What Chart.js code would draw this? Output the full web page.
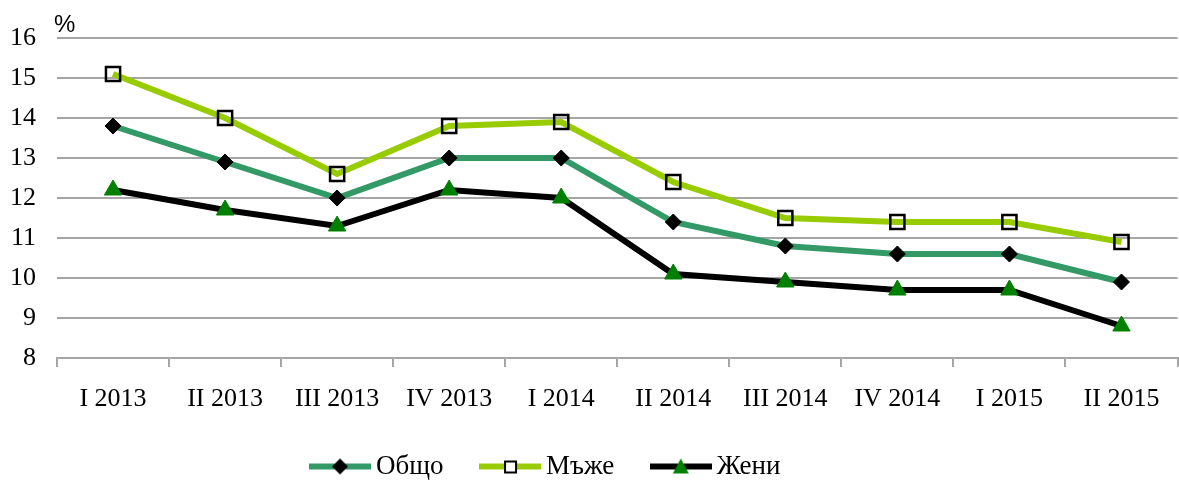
<!DOCTYPE html>
<html>
<head>
<meta charset="utf-8">
<script src="https://cdn.jsdelivr.net/npm/chart.js@4/dist/chart.umd.min.js"></script>
<style>
  html, body { margin: 0; padding: 0; background: #fff; overflow: hidden; width: 1179px; height: 481px; }
  #chart { position: absolute; left: -92px; top: 0; }
</style>
</head>
<body>
<canvas id="chart" width="1282" height="500"></canvas>
<script>
var categories = ['I 2013', 'II 2013', 'III 2013', 'IV 2013', 'I 2014', 'II 2014', 'III 2014', 'IV 2014', 'I 2015', 'II 2015'];
var total = [13.8, 12.9, 12.0, 13.0, 13.0, 11.4, 10.8, 10.6, 10.6, 9.9];
var men = [15.1, 14.0, 12.6, 13.8, 13.9, 12.4, 11.5, 11.4, 11.4, 10.9];
var women = [12.2, 11.7, 11.3, 12.2, 12.0, 10.1, 9.9, 9.7, 9.7, 8.8];
var seriesNames = ['Общо', 'Мъже', 'Жени'];

var gridColor = '#a6a6a6';
var serif = "'Liberation Serif', 'Times New Roman', serif";

// legend icon: line sample with the marker in the middle
function legendIcon(lineColor, style, fill, stroke) {
  var c = document.createElement('canvas');
  c.width = 62;
  c.height = 22;
  var ctx = c.getContext('2d');
  ctx.fillStyle = lineColor;
  ctx.fillRect(0, 8, 62, 6);
  ctx.fillStyle = fill;
  ctx.strokeStyle = stroke;
  ctx.lineWidth = 2;
  ctx.beginPath();
  if (style == 'rectRot') {
    ctx.moveTo(31, 3); ctx.lineTo(39, 11); ctx.lineTo(31, 19); ctx.lineTo(23, 11);
    ctx.closePath();
    ctx.fill();
  } else if (style == 'rect') {
    ctx.fillRect(26, 6, 11, 11);
    ctx.strokeRect(26, 6, 11, 11);
  } else {
    ctx.moveTo(31, 3); ctx.lineTo(39, 18); ctx.lineTo(23, 18);
    ctx.closePath();
    ctx.fill();
  }
  return c;
}

var percentLabel = {
  id: 'percentLabel',
  afterDraw: function (chart) {
    var ctx = chart.ctx;
    ctx.save();
    ctx.font = "24px 'Liberation Sans', Arial, sans-serif";
    ctx.fillStyle = '#000';
    ctx.textAlign = 'left';
    ctx.textBaseline = 'alphabetic';
    ctx.fillText('%', chart.chartArea.left - 3, chart.chartArea.top - 6);
    ctx.restore();
  }
};

var icons = [];
var iconStyles = [
  ['#339966', 'rectRot', '#000', '#000'],
  ['#99cc00', 'rect', '#fff', '#000'],
  ['#000', 'triangle', '#008000', '#008000']
];

var chart = new Chart(document.getElementById('chart'), {
  type: 'line',
  data: {
    labels: categories,
    datasets: [{
      label: seriesNames[0],
      data: total,
      borderColor: '#339966',
      backgroundColor: '#000',
      borderWidth: 6,
      pointStyle: 'rectRot',
      pointRadius: 8,
      pointHoverRadius: 8,
      pointBackgroundColor: '#000',
      pointBorderColor: '#000',
      pointBorderWidth: 1,
      tension: 0
    }, {
      label: seriesNames[1],
      data: men,
      borderColor: '#99cc00',
      backgroundColor: 'rgba(0,0,0,0)',
      borderWidth: 6,
      pointStyle: 'rect',
      pointRadius: 10,
      pointHoverRadius: 10,
      pointBackgroundColor: 'rgba(0,0,0,0)',
      pointBorderColor: '#000',
      pointBorderWidth: 2.5,
      tension: 0
    }, {
      label: seriesNames[2],
      data: women,
      borderColor: '#000',
      backgroundColor: '#008000',
      borderWidth: 6,
      pointStyle: 'triangle',
      pointRadius: 10,
      pointHoverRadius: 10,
      pointBackgroundColor: '#008000',
      pointBorderColor: '#008000',
      pointBorderWidth: 1,
      tension: 0
    }]
  },
  options: {
    responsive: false,
    animation: false,
    layout: { padding: { top: 38, left: 0, right: 0, bottom: 10 } },
    plugins: {
      tooltip: { enabled: false },
      legend: {
        position: 'bottom',
        labels: {
          usePointStyle: true,
          pointStyleWidth: 45,
          padding: 44,
          color: '#000',
          font: { family: serif, size: 27 },
          generateLabels: function (chart) {
            return chart.data.datasets.map(function (ds, i) {
              var s = iconStyles[i];
              if (!icons[i]) icons[i] = legendIcon(s[0], s[1], s[2], s[3]);
              return {
                text: ds.label,
                pointStyle: icons[i],
                fillStyle: s[0],
                strokeStyle: s[0],
                lineWidth: 0,
                hidden: false,
                datasetIndex: i,
                fontColor: '#000'
              };
            });
          }
        }
      }
    },
    scales: {
      x: {
        offset: true,
        grid: {
          offset: true,
          drawOnChartArea: false,
          drawTicks: true,
          tickLength: 9,
          color: gridColor,
          lineWidth: 2
        },
        border: { display: true, color: gridColor, width: 2 },
        ticks: {
          color: '#000',
          font: { family: serif, size: 26 },
          padding: 17,
          maxRotation: 0,
          autoSkip: false
        },
        afterFit: function (scale) { scale.height = 51; }
      },
      y: {
        min: 8,
        max: 16,
        grid: { color: gridColor, lineWidth: 2, drawTicks: false },
        border: { display: false },
        ticks: {
          stepSize: 1,
          color: '#000',
          padding: 21,
          font: { family: serif, size: 26 }
        },
        afterFit: function (scale) { scale.width = 149; }
      }
    }
  },
  plugins: [percentLabel]
});
</script>
</body>
</html>
